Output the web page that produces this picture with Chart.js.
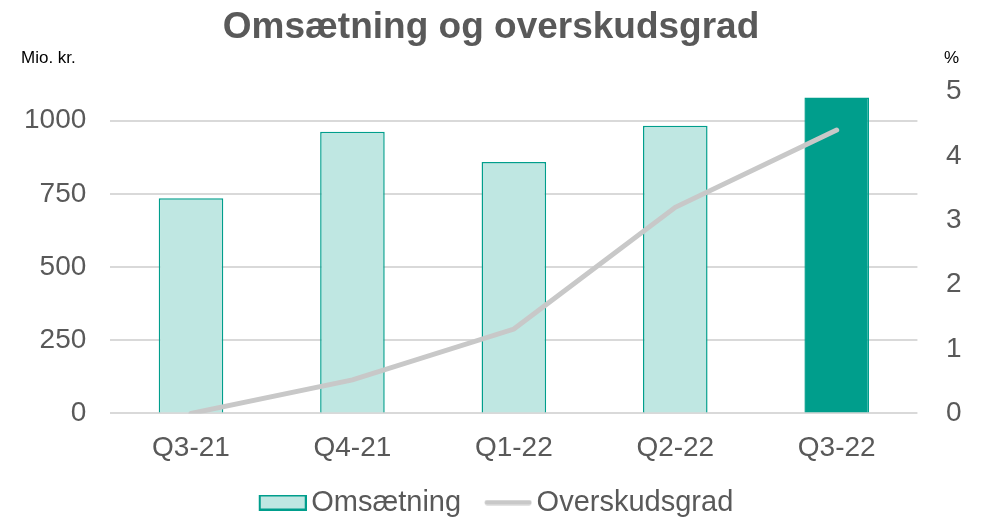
<!DOCTYPE html>
<html lang="da">
<head>
  <meta charset="UTF-8">
  <title>Omsætning og overskudsgrad</title>
  <script src="https://cdn.jsdelivr.net/npm/chart.js"></script>
  <style>
    body {
      margin: 0;
      background: #fff;
    }
    .wrap {
      width: 982px;
      height: 520px;
    }
  </style>
</head>
<body>
  <div class="wrap">
    <canvas id="chart"></canvas>
  </div>

  <script>
    const quarters = ['Q3-21', 'Q4-21', 'Q1-22', 'Q2-22', 'Q3-22'];
    const omsaetning = [735, 962, 859, 983, 1079];
    const overskudsgrad = [0, 0.52, 1.31, 3.2, 4.4];
    const leftTicks = [0, 250, 500, 750, 1000];
    const rightTicks = [0, 1, 2, 3, 4, 5];

    const textGrey = '#595959';
    const teal = '#009e8c';
    const tealLight = '#bfe7e2';
    const lineGrey = '#c8c8c8';
    const FONT = '"Liberation Sans", Arial, sans-serif';

    // legend symbols as small canvases; drawn shifted right so the text sits close
    const SHIFT = 10;
    function makeSymbol(h, draw) {
      const c = document.createElement('canvas');
      c.width = 48 + SHIFT * 2;
      c.height = h;
      draw(c.getContext('2d'), SHIFT * 2);
      return c;
    }
    const barSymbol = makeSymbol(16, (g, x0) => {
      g.fillStyle = tealLight;
      g.fillRect(x0 + 1, 1, 46, 14);
      g.strokeStyle = teal;
      g.lineWidth = 2;
      g.strokeRect(x0 + 1, 1, 46, 14);
    });
    const lineSymbol = makeSymbol(6, (g, x0) => {
      g.strokeStyle = lineGrey;
      g.lineWidth = 5;
      g.lineCap = 'round';
      g.beginPath();
      g.moveTo(x0 + 3, 3);
      g.lineTo(x0 + 45, 3);
      g.stroke();
    });

    // small unit labels above each y axis
    const unitLabels = {
      id: 'unitLabels',
      afterDraw(chart) {
        const ctx = chart.ctx;
        ctx.save();
        ctx.font = '17px ' + FONT;
        ctx.fillStyle = '#000';
        ctx.textBaseline = 'middle';
        ctx.textAlign = 'left';
        ctx.fillText('Mio. kr.', 21, 58);
        ctx.fillText('%', 944, 58);
        ctx.restore();
      }
    };

    const ctx = document.getElementById('chart').getContext('2d');
    new Chart(ctx, {
      data: {
        labels: quarters,
        datasets: [
          {
            type: 'line',
            label: 'Overskudsgrad',
            data: overskudsgrad,
            yAxisID: 'y1',
            borderColor: lineGrey,
            backgroundColor: lineGrey,
            borderWidth: 5,
            borderCapStyle: 'round',
            pointRadius: 0,
            tension: 0,
            order: 0
          },
          {
            type: 'bar',
            label: 'Omsætning',
            data: omsaetning,
            yAxisID: 'y',
            backgroundColor: omsaetning.map((v, i) => i === omsaetning.length - 1 ? teal : tealLight),
            borderColor: teal,
            borderWidth: 1.5,
            barPercentage: 0.4,
            categoryPercentage: 1,
            order: 1
          }
        ]
      },
      options: {
        responsive: true,
        maintainAspectRatio: false,
        animation: false,
        layout: { padding: { left: 0, right: 0, top: 0, bottom: -7 } },
        plugins: {
          title: {
            display: true,
            text: 'Omsætning og overskudsgrad',
            color: textGrey,
            font: { family: FONT, size: 37, weight: 'bold' },
            padding: { top: 6, bottom: 41 }
          },
          legend: {
            position: 'bottom',
            labels: {
              color: textGrey,
              font: { family: FONT, size: 29 },
              usePointStyle: true,
              pointStyleWidth: 48,
              boxHeight: 16,
              padding: 13,
              generateLabels() {
                return [
                  { text: 'Omsætning', pointStyle: barSymbol, fontColor: textGrey, datasetIndex: 1 },
                  { text: 'Overskudsgrad', pointStyle: lineSymbol, fontColor: textGrey, datasetIndex: 0 }
                ];
              }
            }
          },
          tooltip: { enabled: false }
        },
        scales: {
          x: {
            grid: { display: false },
            border: { display: false },
            ticks: {
              color: textGrey,
              font: { family: FONT, size: 28 },
              padding: 10
            }
          },
          y: {
            position: 'left',
            min: 0,
            max: 1100,
            afterBuildTicks(axis) {
              axis.ticks = leftTicks.map(v => ({ value: v }));
            },
            grid: { color: '#d9d9d9', lineWidth: 2, drawTicks: false },
            border: { display: false },
            ticks: {
              color: textGrey,
              font: { family: FONT, size: 28 },
              padding: 24,
              callback: v => String(v)
            }
          },
          y1: {
            position: 'right',
            min: 0,
            max: 5,
            afterBuildTicks(axis) {
              axis.ticks = rightTicks.map(v => ({ value: v }));
            },
            grid: { display: false },
            border: { display: false },
            ticks: {
              color: textGrey,
              font: { family: FONT, size: 28 },
              padding: 20.5
            }
          }
        }
      },
      plugins: [unitLabels]
    });
  </script>
</body>
</html>
